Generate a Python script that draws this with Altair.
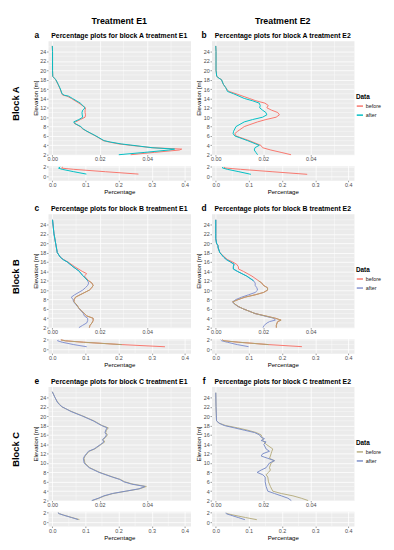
import altair as alt
import pandas as pd

FONT = "Liberation Sans"
RED = "#F8766D"
TEAL = "#00BFC4"
BLUE_B = "#8492D0"
OLIVE_B = "#B3A26E"
OLIVE_C = "#B8AE82"
BLUE_C = "#7C8FC8"

# ---------------- main profiles (elevation 2..25 m) ----------------
a_elev = [25.2, 24, 22, 20, 18.7, 18.2, 18, 17, 16, 15, 14.7, 14.5, 14, 13, 12, 11.5, 11, 10.5, 10, 9.5,
          9, 8.7, 8, 7.5, 7, 6, 5, 4.7, 4.3, 4, 3.5, 3.2, 3, 2.5, 2]
a_before = [0.0000, 0.0001, 0.0001, 0.0001, 0.0002, 0.0010, 0.0014, 0.0024, 0.0033, 0.0040, 0.0044, 0.0062,
            0.0080, 0.0112, 0.0140, 0.0138, 0.0138, 0.0140, 0.0138, 0.0118, 0.0098, 0.0092, 0.0118, 0.0128,
            0.0145, 0.0182, 0.0215, 0.0240, 0.0280, 0.0330, 0.0420, 0.0545, 0.0535, 0.0430, 0.0330]
a_after = [0.0000, 0.0001, 0.0001, 0.0001, 0.0002, 0.0011, 0.0015, 0.0025, 0.0034, 0.0041, 0.0050, 0.0068,
           0.0085, 0.0118, 0.0138, 0.0128, 0.0125, 0.0126, 0.0128, 0.0112, 0.0090, 0.0094, 0.0120, 0.0130,
           0.0146, 0.0184, 0.0218, 0.0245, 0.0290, 0.0340, 0.0420, 0.0515, 0.0490, 0.0390, 0.0280]

b_elev = [25.2, 24, 22, 20, 18.7, 18.3, 18, 17, 16.3, 16, 15.5, 15, 14, 13.5, 13, 12.5, 12, 11.5, 11, 10.5,
          10, 9.5, 9, 8, 7, 6.5, 6, 5, 4, 3.5, 3, 2.5, 2]
b_before = [0.0000, 0.0001, 0.0001, 0.0001, 0.0004, 0.0014, 0.0024, 0.0032, 0.0042, 0.0045, 0.0056, 0.0085,
            0.0141, 0.0169, 0.0207, 0.0221, 0.0215, 0.0235, 0.0261, 0.0268, 0.0254, 0.0211, 0.0176, 0.0120,
            0.0092, 0.0080, 0.0085, 0.0141, 0.0190, 0.0197, 0.0232, 0.0275, 0.0317]
b_after = [0.0000, 0.0001, 0.0001, 0.0001, 0.0004, 0.0014, 0.0024, 0.0032, 0.0042, 0.0045, 0.0049, 0.0075,
           0.0120, 0.0155, 0.0183, 0.0187, 0.0185, 0.0197, 0.0211, 0.0215, 0.0197, 0.0155, 0.0120, 0.0085,
           0.0075, 0.0073, 0.0080, 0.0134, 0.0183, 0.0165, 0.0162, 0.0169, 0.0176]

c_elev = [25, 22, 20, 18, 17, 16.5, 16, 15, 14, 13.5, 13, 12, 11.5, 11, 10.5, 10, 9, 8.5, 8, 7.5, 7, 6, 5,
          4.5, 4, 3.5, 3, 2.5, 2]
c_before = [0.0001, 0.0007, 0.0014, 0.0021, 0.0034, 0.0048, 0.0066, 0.0094, 0.0126, 0.0145, 0.0135, 0.0153,
            0.0167, 0.0172, 0.0166, 0.0156, 0.0117, 0.0098, 0.0092, 0.0091, 0.0101, 0.0114, 0.0135, 0.0145,
            0.0172, 0.0172, 0.0167, 0.0159, 0.0156]
c_after = [0.0001, 0.0007, 0.0014, 0.0021, 0.0034, 0.0046, 0.0063, 0.0087, 0.0114, 0.0121, 0.0131, 0.0149,
           0.0153, 0.0149, 0.0139, 0.0128, 0.0094, 0.0080, 0.0087, 0.0090, 0.0098, 0.0114, 0.0131, 0.0135,
           0.0149, 0.0149, 0.0145, 0.0128, 0.0112]

d_elev = [25, 22, 21, 20, 19.5, 19, 18, 17, 16.5, 16, 15.5, 15, 14.5, 14, 13, 12, 11.5, 11, 10.5, 10, 9.5,
          9, 8.5, 8, 7.5, 7, 6.5, 6, 5, 4.5, 4, 3.6, 3.3, 3, 2.5, 2]
d_before = [0.0000, 0.0000, 0.0000, 0.0003, 0.0009, 0.0010, 0.0017, 0.0038, 0.0050, 0.0071, 0.0088, 0.0095,
            0.0096, 0.0116, 0.0152, 0.0180, 0.0194, 0.0201, 0.0218, 0.0218, 0.0201, 0.0166, 0.0123, 0.0095,
            0.0071, 0.0081, 0.0095, 0.0116, 0.0166, 0.0209, 0.0251, 0.0275, 0.0261, 0.0258, 0.0255, 0.0255]
d_after = [0.0000, 0.0000, 0.0000, 0.0003, 0.0009, 0.0010, 0.0017, 0.0034, 0.0045, 0.0062, 0.0077, 0.0074,
           0.0074, 0.0091, 0.0130, 0.0159, 0.0166, 0.0166, 0.0173, 0.0176, 0.0166, 0.0138, 0.0109, 0.0085,
           0.0071, 0.0079, 0.0094, 0.0116, 0.0166, 0.0204, 0.0244, 0.0251, 0.0227, 0.0216, 0.0204, 0.0199]

e_elev = [25.2, 24, 23, 22.5, 22, 21, 20, 19, 18, 17.5, 17, 16.5, 16, 15.5, 15, 14.5, 14, 13, 12.5, 12,
          11.5, 11, 10, 9, 8, 7, 6.5, 6, 5.5, 5, 4.5, 4, 3.5, 3, 2.5, 2]
e_before = [0.0000, 0.0011, 0.0022, 0.0032, 0.0039, 0.0081, 0.0130, 0.0175, 0.0210, 0.0236, 0.0228, 0.0225,
            0.0232, 0.0225, 0.0214, 0.0221, 0.0207, 0.0179, 0.0155, 0.0147, 0.0138, 0.0134, 0.0137, 0.0158,
            0.0200, 0.0256, 0.0287, 0.0305, 0.0340, 0.0396, 0.0368, 0.0312, 0.0256, 0.0221, 0.0197, 0.0169]
e_after = [0.0000, 0.0011, 0.0021, 0.0029, 0.0041, 0.0078, 0.0127, 0.0172, 0.0207, 0.0231, 0.0225, 0.0222,
           0.0228, 0.0222, 0.0211, 0.0217, 0.0204, 0.0176, 0.0152, 0.0144, 0.0136, 0.0131, 0.0134, 0.0155,
           0.0197, 0.0253, 0.0284, 0.0301, 0.0334, 0.0390, 0.0365, 0.0309, 0.0253, 0.0217, 0.0194, 0.0166]

f_elev = [25, 22, 19, 18.5, 18, 17.5, 17, 16.5, 16, 15.5, 15.2, 15, 14.8, 14.5, 14, 13, 12.5, 12, 11.5, 11,
          10.5, 10, 9, 8.5, 8, 7.5, 7, 6, 5, 4, 3.5, 3, 2.5, 2]
f_before = [0.0000, 0.0001, 0.0003, 0.0014, 0.0042, 0.0092, 0.0134, 0.0170, 0.0191, 0.0195, 0.0198, 0.0198,
            0.0198, 0.0202, 0.0212, 0.0240, 0.0236, 0.0233, 0.0230, 0.0226, 0.0247, 0.0233, 0.0226, 0.0230,
            0.0222, 0.0212, 0.0219, 0.0222, 0.0230, 0.0240, 0.0276, 0.0325, 0.0360, 0.0389]
f_after = [0.0000, 0.0001, 0.0003, 0.0014, 0.0035, 0.0078, 0.0120, 0.0163, 0.0184, 0.0191, 0.0205, 0.0198,
           0.0191, 0.0212, 0.0202, 0.0212, 0.0226, 0.0198, 0.0191, 0.0219, 0.0247, 0.0226, 0.0212, 0.0191,
           0.0174, 0.0198, 0.0208, 0.0208, 0.0212, 0.0219, 0.0247, 0.0276, 0.0304, 0.0318]

# ---------------- lower profiles (elevation 0..2 m) ----------------
sa_elev = [2.0, 1.75, 1.5, 1.0, 0.5]
sa_before = [0.032, 0.028, 0.065, 0.160, 0.260]
sa_after = [0.024, 0.019, 0.030, 0.065, 0.103]
sb_elev = [2.0, 1.8, 1.5, 1.0, 0.45]
sb_before = [0.028, 0.025, 0.075, 0.170, 0.276]
sb_after = [0.022, 0.020, 0.035, 0.070, 0.106]
sc_elev = [2.0, 1.8, 1.5, 1.0, 0.55]
sc_before = [0.026, 0.040, 0.095, 0.210, 0.340]
sc_after = [0.018, 0.016, 0.030, 0.065, 0.104]
sd_elev = [2.0, 1.8, 1.5, 1.0, 0.57]
sd_before = [0.020, 0.025, 0.070, 0.160, 0.260]
sd_after = [0.015, 0.018, 0.035, 0.065, 0.099]
se_elev = [2.0, 1.8, 1.5, 1.0, 0.57]
se_before = [0.018, 0.022, 0.035, 0.060, 0.082]
se_after = [0.017, 0.021, 0.034, 0.058, 0.078]
sf_elev = [2.0, 1.8, 1.5, 1.0, 0.55]
sf_before = [0.033, 0.035, 0.055, 0.090, 0.124]
sf_after = [0.030, 0.032, 0.045, 0.068, 0.088]

main_x_ticks = [0, 0.02, 0.04]
main_x_minor = [0.01, 0.03, 0.05]
main_y_ticks = [2, 4, 6, 8, 10, 12, 14, 16, 18, 20, 22, 24]
main_y_minor = [3, 5, 7, 9, 11, 13, 15, 17, 19, 21, 23, 25]
small_x_ticks = [0, 0.1, 0.2, 0.3, 0.4]
small_x_minor = [0.05, 0.15, 0.25, 0.35]
small_y_ticks = [0, 2]
small_y_minor = [1]

W, H, HS = 145, 116, 15


def long_df(elev, before, after):
    return pd.DataFrame({
        "elev": list(elev) * 2,
        "pct": list(before) + list(after),
        "Data": ["before"] * len(elev) + ["after"] * len(elev),
    })


def overlay_df(elev, before, after, specs, split):
    rows = []
    for series, side, col in specs:
        vals = before if series == "before" else after
        for e, v in zip(elev, vals):
            if (side == "hi" and e >= split) or (side == "lo" and e <= split):
                rows.append({"elev": e, "pct": v, "key": series + side, "col": col})
    return pd.DataFrame(rows)


def text_layer(txt, x, y, size, angle=0):
    return alt.Chart(pd.DataFrame({"t": [txt]})).mark_text(
        font=FONT, fontSize=size, fontWeight="bold", angle=angle,
        align="center", baseline="middle", color="black"
    ).encode(x=alt.value(x), y=alt.value(y), text="t:N")


def build(elev, before, after, colors, xdom, ydom, xt, xmin, yt, ymin, xfmt, xtitle, ytitle,
          width, height, legend, overlays, split, texts):
    xe = alt.X("pct:Q", scale=alt.Scale(domain=xdom, nice=False, zero=False),
               axis=alt.Axis(values=xt, format=xfmt), title=xtitle)
    ye = alt.Y("elev:Q", scale=alt.Scale(domain=ydom, nice=False, zero=False),
               axis=alt.Axis(values=yt, titlePadding=1.5), title=ytitle)
    layers = [
        alt.Chart(pd.DataFrame({"elev": ymin})).mark_rule(color="white", strokeWidth=0.4).encode(y=ye),
        alt.Chart(pd.DataFrame({"pct": xmin})).mark_rule(color="white", strokeWidth=0.4).encode(x=xe),
    ]
    if legend:
        leg = alt.Legend(orient="none", legendX=147, legendY=54, direction="vertical", title="Data",
                         titleFont=FONT, titleFontSize=6.5, titleFontWeight="bold", titleColor="black",
                         titlePadding=2, labelFont=FONT, labelFontSize=5.5, labelColor="#222222",
                         labelOffset=2, symbolType="stroke", symbolStrokeWidth=1.5, symbolSize=40,
                         rowPadding=1.2, padding=0)
    else:
        leg = None
    layers.append(
        alt.Chart(long_df(elev, before, after)).mark_line(strokeWidth=1).encode(
            x=xe, y=ye,
            color=alt.Color("Data:N", scale=alt.Scale(domain=["before", "after"], range=colors), legend=leg),
            order="elev:Q",
        )
    )
    if overlays:
        layers.append(
            alt.Chart(overlay_df(elev, before, after, overlays, split)).mark_line(strokeWidth=1).encode(
                x=xe, y=ye, color=alt.Color("col:N", scale=None), detail="key:N", order="elev:Q"
            )
        )
    layers.extend(texts)
    return alt.layer(*layers).properties(width=width, height=height).resolve_scale(color="independent")


def panel(main, small, colors, letter, title, side, block=None, treat=None,
          overlays=None, s_overlays=None):
    texts = [
        text_layer(title, W / 2, -5, 7),
        text_layer(letter, -11.5 if side == "L" else -7.5, -5.5, 8.5),
    ]
    if block:
        texts.append(text_layer(block, -32.5, 64, 9.5, angle=270))
    if treat:
        texts.append(text_layer(treat, W / 2, -20.5, 9))
    m = build(*main, colors, [-0.0018, 0.0582], [2.0, 26.3], main_x_ticks, main_x_minor,
              main_y_ticks, main_y_minor, ".2f", None, "Elevation [m]", W, H,
              side == "R", overlays, 12, texts)
    s = build(*small, colors, [-0.0127, 0.417], [-0.8, 2.3], small_x_ticks, small_x_minor,
              small_y_ticks, small_y_minor, ".1f", "Percentage", None, W, HS,
              False, s_overlays, 1.0, [])
    return alt.vconcat(m, s, spacing=11, bounds="flush").resolve_scale(
        x="independent", y="independent", color="independent")


colA = [RED, TEAL]
colB = [RED, BLUE_B]
colC = [OLIVE_C, BLUE_C]
ovB = [("after", "hi", TEAL), ("before", "lo", OLIVE_B)]
sovB = [("before", "hi", OLIVE_B)]

pa = panel((a_elev, a_before, a_after), (sa_elev, sa_before, sa_after), colA, "a",
           "Percentage plots for block A treatment E1", "L", block="Block A", treat="Treatment E1")
pb = panel((b_elev, b_before, b_after), (sb_elev, sb_before, sb_after), colA, "b",
           "Percentage plots for block A treatment E2", "R", treat="Treatment E2")
pc = panel((c_elev, c_before, c_after), (sc_elev, sc_before, sc_after), colB, "c",
           "Percentage plots for block B treatment E1", "L", block="Block B",
           overlays=ovB, s_overlays=sovB)
pd_ = panel((d_elev, d_before, d_after), (sd_elev, sd_before, sd_after), colB, "d",
            "Percentage plots for block B treatment E2", "R", overlays=ovB, s_overlays=sovB)
pe = panel((e_elev, e_before, e_after), (se_elev, se_before, se_after), colC, "e",
           "Percentage plots for block C treatment E1", "L", block="Block C")
pf = panel((f_elev, f_before, f_after), (sf_elev, sf_before, sf_after), colC, "f",
           "Percentage plots for block C treatment E2", "R")


def row(l, r):
    return alt.hconcat(l, r, spacing=3.4).resolve_scale(x="independent", y="independent", color="independent")


chart = alt.vconcat(row(pa, pb), row(pc, pd_), row(pe, pf), spacing=8).resolve_scale(
    x="independent", y="independent", color="independent"
).properties(
    padding={"left": 2.75, "top": 3.5, "right": 4, "bottom": 4},
    background="white",
).configure_view(
    fill="#EBEBEB", stroke="transparent"
).configure_axis(
    domain=False, grid=True, gridColor="white", gridWidth=0.8,
    labelFont=FONT, labelFontSize=5.5, labelColor="#4D4D4D", labelPadding=0.8,
    tickSize=1.5, tickColor="#333333", tickWidth=0.5,
    titleFont=FONT, titleFontSize=6.2, titleFontWeight="normal", titleColor="black",
    titlePadding=1, labelFlush=False, labelOverlap=False,
)

chart.save("out.html", embed_options={"renderer": "svg", "actions": False})
